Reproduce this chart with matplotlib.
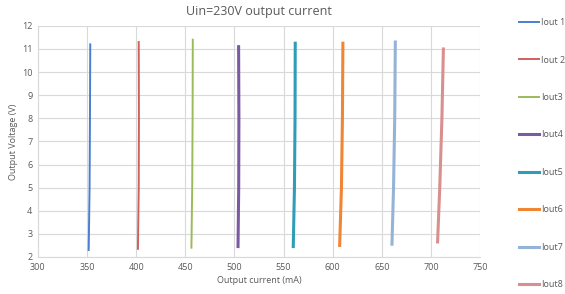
import matplotlib.pyplot as plt

# data (current in mA, voltage in V)
labels = ['Iout 1', 'Iout 2', 'Iout3', 'Iout4', 'Iout5', 'Iout6', 'Iout7', 'Iout8']
colors = ['#4a7fcf', '#d0605e', '#9bbb59', '#7a5ba3', '#2f9db8', '#f08534', '#95b3d7', '#d98f8d']
widths = [1.4, 1.4, 1.4, 2.2, 2.2, 2.2, 2.2, 2.2]

volt1 = [2.3, 5.0, 8.0, 11.2]
cur1 = [351.7, 352.6, 353.0, 353.3]
volt2 = [2.35, 5.0, 8.0, 11.3]
cur2 = [401.8, 402.6, 402.8, 402.6]
volt3 = [2.4, 5.0, 8.0, 11.4]
cur3 = [456.2, 457.0, 457.4, 457.6]
volt4 = [2.45, 5.0, 8.0, 11.1]
cur4 = [503.6, 504.3, 504.5, 504.2]
volt5 = [2.45, 5.0, 8.0, 11.25]
cur5 = [559.8, 561.0, 561.6, 561.8]
volt6 = [2.5, 5.0, 8.0, 11.25]
cur6 = [607.0, 608.8, 609.8, 610.3]
volt7 = [2.55, 5.0, 8.0, 11.3]
cur7 = [660.2, 661.8, 663.0, 663.6]
volt8 = [2.65, 5.0, 8.0, 11.0]
cur8 = [706.6, 708.8, 711.0, 712.5]

currents = [cur1, cur2, cur3, cur4, cur5, cur6, cur7, cur8]
voltages = [volt1, volt2, volt3, volt4, volt5, volt6, volt7, volt8]

plt.rcParams['font.family'] = ['Open Sans', 'DejaVu Sans']

fig = plt.figure(figsize=(5.65, 2.94), dpi=100)
ax = fig.add_axes([0.067, 0.126, 0.783, 0.786])

for i in range(len(labels)):
    ax.plot(currents[i], voltages[i], color=colors[i], lw=widths[i], label=labels[i])

ax.set_xlim(300, 750)
ax.set_ylim(2, 12)
ax.set_xticks(range(300, 751, 50))
ax.set_yticks(range(2, 13))
ax.grid(True, color='#d9d9d9', lw=0.8)
ax.set_axisbelow(True)
for s in ['top', 'right']:
    ax.spines[s].set_visible(False)
for s in ['left', 'bottom']:
    ax.spines[s].set_color('#d9d9d9')
ax.tick_params(length=0, labelsize=6.5, colors='#595959', pad=4)

ax.set_title('Uin=230V output current', fontsize=9, color='#595959', pad=8)
ax.set_xlabel('Output current (mA)', fontsize=6.5, color='#595959', labelpad=3)
ax.set_ylabel('Output Voltage (V)', fontsize=6.5, color='#595959', labelpad=3)

fig.legend(loc='upper left', bbox_to_anchor=(0.905, 0.966), frameon=False,
           fontsize=6.5, labelcolor='#595959', labelspacing=3.15,
           handlelength=2.2, handletextpad=0.2)

fig.savefig('out.png', dpi=100)
